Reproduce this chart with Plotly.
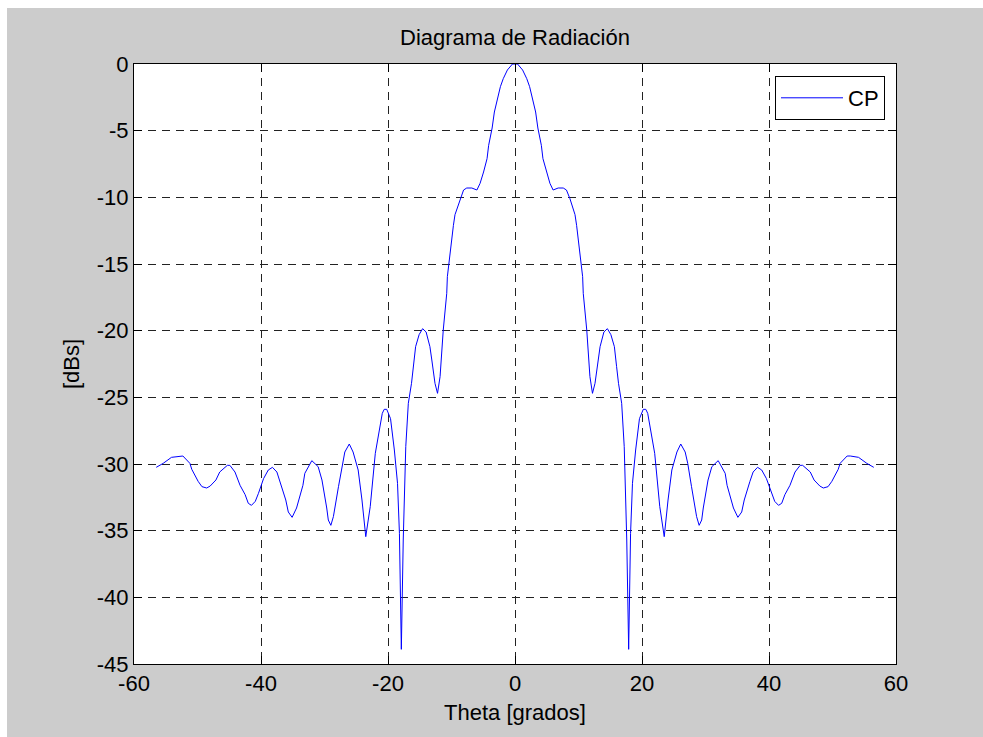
import plotly.graph_objects as go

# Radiation pattern (theta in degrees, gain in dB)
theta_left = [-56.5, -55.4, -54.1, -52.8, -52.3, -51.2, -50.9, -49.9, -49.3, -48.55, -48.0, -47.1, -46.5,
              -45.3, -44.9, -44.1, -43.3, -42.5, -42.0, -41.5, -40.9, -40.4, -39.6, -38.85, -38.2, -37.5,
              -37.0, -36.1, -35.7, -35.1, -34.4, -33.4, -33.1, -32.0, -31.0, -30.4, -29.65, -29.4, -29.0,
              -28.6, -27.8, -27.2, -26.8, -26.1, -25.5, -24.7, -24.1, -23.5, -22.8, -22.0, -21.4, -20.9,
              -20.6, -20.2, -19.6, -19.0, -18.5, -18.2, -17.9, -17.6, -17.2, -16.8, -16.3, -16.0, -15.65,
              -15.1, -14.55, -14.0, -13.4, -13.1, -12.6, -12.2, -11.8, -11.3, -10.75, -10.65, -10.2, -9.7,
              -9.45, -8.65, -8.1, -7.6, -6.8, -6.0, -5.5, -4.95, -4.4, -4.15, -3.6, -3.25, -2.8, -2.3,
              -1.85, -1.2, -0.4, 0.0]
db_left = [-30.25, -29.95, -29.5, -29.4, -29.4, -29.95, -30.4, -31.3, -31.7, -31.8, -31.65, -31.2, -30.6,
           -30.1, -30.1, -30.6, -31.6, -32.3, -32.95, -33.1, -32.8, -32.2, -31.1, -30.45, -30.25, -30.6,
           -31.3, -32.7, -33.6, -34.0, -33.3, -31.6, -30.7, -29.75, -30.2, -31.2, -33.3, -34.2, -34.6,
           -33.95, -31.7, -29.95, -29.1, -28.5, -29.1, -30.45, -32.7, -35.45, -33.2, -29.2, -27.45, -26.2,
           -25.9, -25.9, -26.6, -28.95, -31.45, -35.2, -43.9, -35.7, -28.7, -25.45, -23.95, -22.7, -21.2,
           -20.3, -19.85, -20.1, -21.2, -22.2, -23.95, -24.7, -23.45, -19.95, -17.2, -15.95, -14.0, -12.1,
           -11.3, -10.1, -9.45, -9.3, -9.3, -9.45, -8.95, -8.1, -7.1, -6.1, -4.8, -3.6, -2.6, -1.7,
           -1.1, -0.45, 0.0, 0.0]
theta_right = [0.4, 1.2, 1.85, 2.3, 2.8, 3.25, 3.6, 4.15, 4.4, 4.95, 5.5, 6.0, 6.8, 7.6, 8.1, 8.65, 9.45,
               9.7, 10.2, 10.65, 10.75, 11.3, 11.8, 12.2, 12.6, 13.1, 13.4, 14.0, 14.55, 15.1, 15.65, 16.0,
               16.3, 16.8, 17.2, 17.6, 17.9, 18.2, 18.5, 19.0, 19.6, 20.2, 20.6, 20.9, 21.4, 22.0, 22.8,
               23.5, 24.1, 24.7, 25.5, 26.1, 26.8, 27.2, 27.8, 28.6, 29.0, 29.4, 29.65, 30.4, 31.0, 32.0,
               33.1, 33.4, 34.4, 35.1, 35.7, 36.1, 37.0, 37.5, 38.2, 38.85, 39.6, 40.4, 40.9, 41.5, 42.0,
               42.5, 43.3, 44.1, 44.9, 45.3, 46.5, 47.1, 48.0, 48.55, 49.3, 49.9, 50.9, 51.2, 52.3, 52.8,
               54.1, 55.4, 56.5]
db_right = [0.0, -0.45, -1.1, -1.7, -2.6, -3.6, -4.8, -6.1, -7.1, -8.1, -8.95, -9.45, -9.3, -9.3, -9.45,
            -10.1, -11.3, -12.1, -14.0, -15.95, -17.2, -19.95, -23.45, -24.7, -23.95, -22.2, -21.2, -20.1,
            -19.85, -20.3, -21.2, -22.7, -23.95, -25.45, -28.7, -35.7, -43.9, -35.2, -31.45, -28.95, -26.6,
            -25.9, -25.9, -26.2, -27.45, -29.2, -33.2, -35.45, -32.7, -30.45, -29.1, -28.5, -29.1, -29.95,
            -31.7, -33.95, -34.6, -34.2, -33.3, -31.2, -30.2, -29.75, -30.7, -31.6, -33.3, -34.0, -33.6,
            -32.7, -31.3, -30.6, -30.25, -30.45, -31.1, -32.2, -32.8, -33.1, -32.95, -32.3, -31.6, -30.6,
            -30.1, -30.1, -30.6, -31.2, -31.65, -31.8, -31.7, -31.3, -30.4, -29.95, -29.4, -29.4, -29.5,
            -29.95, -30.25]

x_ticks = [-60, -40, -20, 0, 20, 40, 60]
y_ticks = [-45, -40, -35, -30, -25, -20, -15, -10, -5, 0]

theta = theta_left + theta_right
gain = db_left + db_right

FONT = "Liberation Sans, Arial, Helvetica, sans-serif"
FS = 22
W, H = 983, 737
ML, MR, MT, MB = 134, 87, 64, 73
PW, PH = W - ML - MR, H - MT - MB

fig = go.Figure()
fig.add_trace(go.Scatter(x=theta, y=gain, mode="lines", name="CP",
                         line=dict(color="#0000ff", width=1)))

axis_common = dict(showline=True, linecolor="black", linewidth=1, mirror="allticks",
                   ticks="inside", ticklen=8, tickcolor="black", tickwidth=1,
                   showgrid=True, gridcolor="#222222", griddash="8px,6px", gridwidth=1,
                   zeroline=False, tickfont=dict(family=FONT, size=FS, color="black"))

fig.update_xaxes(range=[-60, 60], tickvals=x_ticks, ticktext=[str(v) for v in x_ticks],
                 title=dict(text="Theta [grados]", font=dict(family=FONT, size=FS, color="black"),
                            standoff=9), **axis_common)
fig.update_yaxes(range=[-45, 0], tickvals=y_ticks, ticktext=[str(v) for v in y_ticks],
                 title=dict(text="[dBs]", font=dict(family=FONT, size=FS, color="black"),
                            standoff=11), **axis_common)

# white strips at the top and left edges, as in the reference image
fig.add_shape(type="rect", xref="paper", yref="paper", layer="above",
              x0=-ML / PW - 0.01, x1=(7 - ML) / PW, y0=-MB / PH - 0.01, y1=(H - MB) / PH + 0.01,
              fillcolor="white", line=dict(width=0))
fig.add_shape(type="rect", xref="paper", yref="paper", layer="above",
              x0=-ML / PW - 0.01, x1=(W - ML) / PW + 0.01, y0=(H - MB - 8) / PH, y1=(H - MB) / PH + 0.01,
              fillcolor="white", line=dict(width=0))

fig.update_layout(
    width=W, height=H,
    margin=dict(l=ML, r=MR, t=MT, b=MB),
    paper_bgcolor="#cccccc", plot_bgcolor="white",
    font=dict(family=FONT, size=FS, color="black"),
    title=dict(text="Diagrama de Radiación", x=(515) / W, xanchor="center",
               y=1 - 37 / H, yanchor="middle", yref="container",
               font=dict(family=FONT, size=FS, color="black")),
    showlegend=True,
    legend=dict(x=(885 - ML) / PW, xanchor="right", y=(H - MB - 76) / PH, yanchor="top",
                bgcolor="white", bordercolor="black", borderwidth=1,
                font=dict(family=FONT, size=FS, color="black"), itemwidth=62),
)

fig.write_html("out.html")
